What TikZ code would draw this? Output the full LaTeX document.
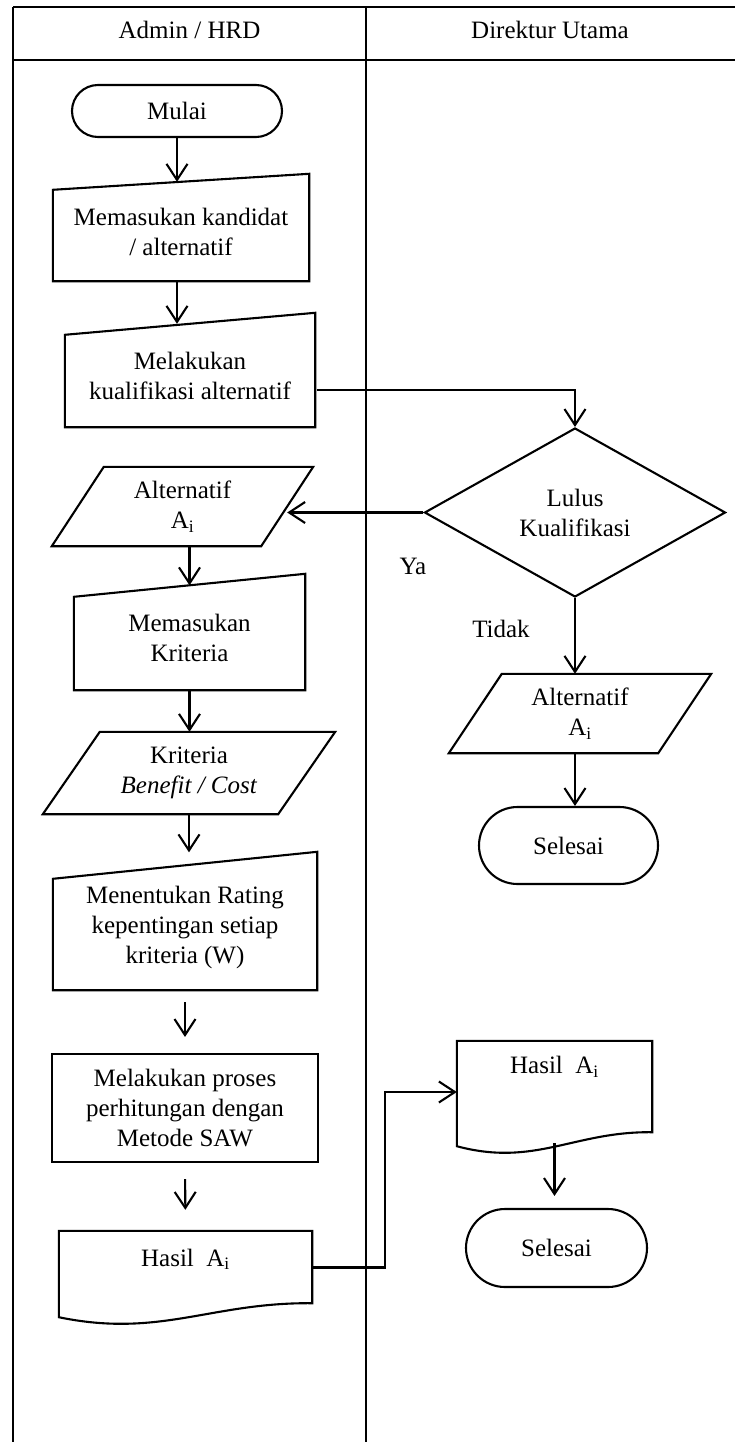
\documentclass[tikz,border=0pt]{standalone}
\usepackage{fontspec}
\setmainfont{Liberation Serif}
\usepackage{tikz}
\usetikzlibrary{arrows.meta,calc,shapes.geometric,shapes.misc}

\tikzset{
  garis/.style={line width=2.1pt},
  ukuran/.style 2 args={minimum width=#1pt, minimum height=#2pt},
  dasar/.style={inner sep=0pt, align=center, font=\fontsize{25}{30}\selectfont},
  terminal/.style={dasar, garis, draw, rounded rectangle},
  proses/.style={dasar, garis, draw, rectangle},
  keputusan/.style={dasar, garis, draw, diamond, aspect=1.78},
  manual/.style={dasar, append after command={\pgfextra{\pgfinterruptpath
    \draw[garis] ($(\tikzlastnode.north west)+(0,#1/2)$) -- ($(\tikzlastnode.north east)+(0,-#1/2)$)
      -- (\tikzlastnode.south east) -- (\tikzlastnode.south west) -- cycle;
    \endpgfinterruptpath}}},
  data/.style={dasar, append after command={\pgfextra{\pgfinterruptpath
    \draw[garis] ($(\tikzlastnode.north west)+(#1/2,0)$) -- ($(\tikzlastnode.north east)+(#1/2,0)$)
      -- ($(\tikzlastnode.south east)+(-#1/2,0)$) -- ($(\tikzlastnode.south west)+(-#1/2,0)$) -- cycle;
    \endpgfinterruptpath}}},
  dokumen/.style={dasar, append after command={\pgfextra{\pgfinterruptpath
    \draw[garis] ($(\tikzlastnode.south west)+(0,3)$) -- (\tikzlastnode.north west)
      -- (\tikzlastnode.north east) -- ($(\tikzlastnode.south east)+(0,-11)$)
      .. controls ($(\tikzlastnode.south west)!0.6!(\tikzlastnode.south east)+(0,-12)$)
      and ($(\tikzlastnode.south west)!0.4!(\tikzlastnode.south east)+(0,24)$)
      .. ($(\tikzlastnode.south west)+(0,3)$) -- cycle;
    \endpgfinterruptpath}}}
}

\begin{document}
\begin{tikzpicture}[x=1pt,y=-1pt,>={Straight Barb[length=16pt,width=21pt]},every edge/.append style={garis}]
 \useasboundingbox (0,0) rectangle (735,1442);

 % lanes
 \draw[garis] (13,7) -- (735,7) (13,60) -- (735,60);
 \draw[garis] (13,7) -- (13,1442) (366,7) -- (366,1442);
 \node[dasar] (admin) at (189.5,30) {Admin / HRD};
 \node[dasar] (dirut) at (550,30) {Direktur Utama};

 % Admin / HRD
 \node[terminal, ukuran={210}{52}] (mulai) at (177,111) {Mulai};
 \node[manual=16, ukuran={256}{99}] (input1) at (181,231.5) {Memasukan kandidat\\/ alternatif};
 \node[manual=22, ukuran={250}{103}] (input2) at (190,375.5) {Melakukan\\kualifikasi alternatif};
 \node[data=52, ukuran={209}{79}] (alt1) at (182.5,506.5) {Alternatif\\A\textsubscript{i}};
 \node[manual=23, ukuran={231}{104.5}] (input3) at (189.5,637.75) {Memasukan\\Kriteria};
 \node[data=57, ukuran={235}{82}] (krit) at (189,773) {Kriteria\\\textit{Benefit / Cost}};
 \node[manual=27, ukuran={264}{124.5}] (input4) at (185,927.75) {Menentukan Rating\\kepentingan setiap\\kriteria (W)};
 \node[proses, ukuran={266}{108}] (saw) at (185,1108) {Melakukan proses\\perhitungan dengan\\Metode SAW};
 \node[dokumen, ukuran={253}{83}] (hasil1) at (185.5,1272.5) {Hasil~~A\textsubscript{i}\\ \mbox{}};

 % Direktur Utama
 \node[keputusan, ukuran={301}{169}] (cek) at (575,512.5) {Lulus\\Kualifikasi};
 \node[dasar] (ya) at (413,566) {Ya};
 \node[dasar] (tidak) at (501,629) {Tidak};
 \node[data=53, ukuran={209}{79}] (alt2) at (580,713.5) {Alternatif\\A\textsubscript{i}};
 \node[terminal, ukuran={179}{77}] (selesai1) at (568.5,845.5) {Selesai};
 \node[dokumen, ukuran={195}{102}] (hasil2) at (554.5,1092) {Hasil~~A\textsubscript{i}\\[24pt] \mbox{}};
 \node[terminal, ukuran={181}{78}] (selesai2) at (556.5,1248) {Selesai};

 \path[->,garis] (mulai.south) edge (mulai.south |- input1.north)
  (mulai.south |- input1.south) edge (mulai.south |- input2.north)
  (input3.north |- alt1.south) edge (input3.north)
  (input3.south) edge (input3.south |- krit.north)
  (krit.south) edge[shorten >=13pt] (krit.south |- input4.north)
  (input4.south) edge[shorten <=12pt, shorten >=16pt] (saw.north)
  (saw.south) edge[shorten <=16pt, shorten >=21pt] (hasil1.north)
  (cek.west) edge (cek.west -| alt1.east)
  (cek.south) edge (cek.south |- alt2.north)
  (cek.south |- alt2.south) edge (cek.south |- selesai1.north)
  (hasil2.south) edge[shorten >=12pt] (hasil2.south |- selesai2.north);
 \draw[->,garis] ([xshift=2pt,yshift=-14.5pt]input2.east) -| (cek.north);
 \draw[->,garis] ([yshift=5pt]hasil1.east) -- ++(73,0) |- (hasil2.west);
\end{tikzpicture}
\end{document}
